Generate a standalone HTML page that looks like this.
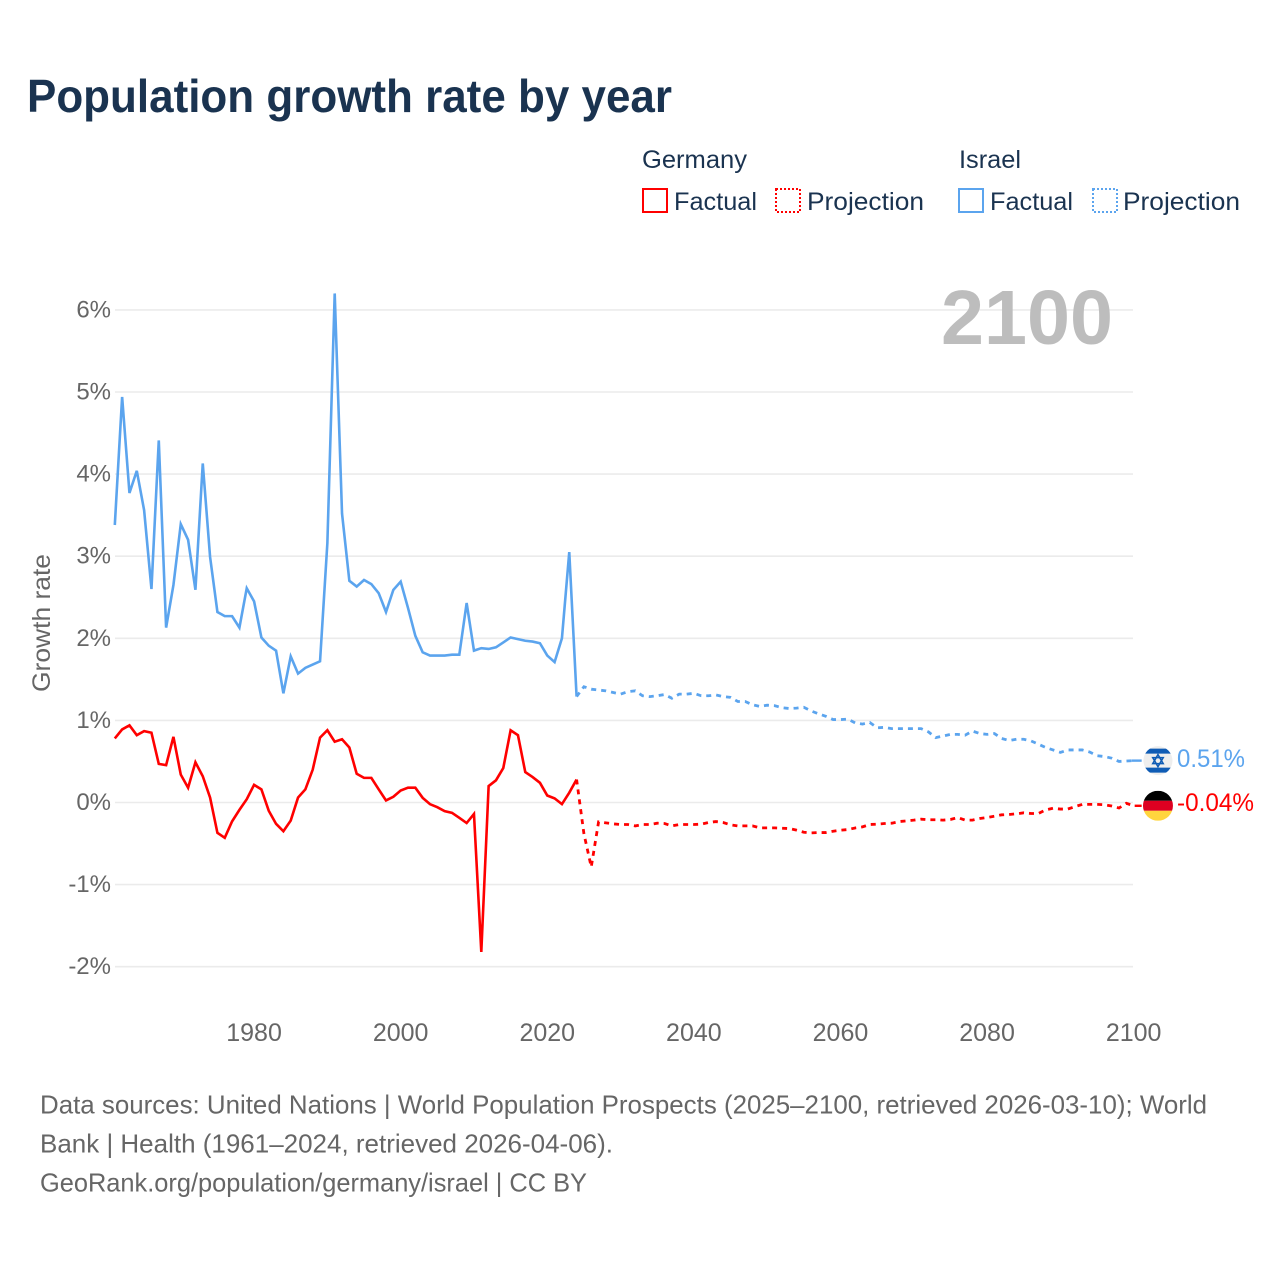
<!DOCTYPE html>
<html lang="en">
<head>
<meta charset="utf-8">
<title>Population growth rate by year</title>
<style>
html,body{margin:0;padding:0;background:#fff;}
svg{display:block;font-family:"Liberation Sans",sans-serif;}
</style>
</head>
<body>
<svg id="chart" xmlns="http://www.w3.org/2000/svg" width="1280" height="1280" viewBox="0 0 1280 1280">
  <rect x="0" y="0" width="1280" height="1280" fill="#ffffff"/>
  <text x="27" y="112" font-size="46" font-weight="700" fill="#1a3350" textLength="645" lengthAdjust="spacingAndGlyphs">Population growth rate by year</text>

  <g font-size="25" fill="#1a3350">
    <text x="642" y="168" textLength="105" lengthAdjust="spacingAndGlyphs">Germany</text>
    <text x="959" y="168" textLength="62" lengthAdjust="spacingAndGlyphs">Israel</text>
    <rect x="643" y="189" width="24" height="23" fill="none" stroke="#ff0000" stroke-width="2"/>
    <text x="674" y="210" textLength="83" lengthAdjust="spacingAndGlyphs">Factual</text>
    <rect x="776" y="189" width="24" height="23" fill="none" stroke="#ff0000" stroke-width="2" stroke-dasharray="2 2"/>
    <text x="807" y="210" textLength="117" lengthAdjust="spacingAndGlyphs">Projection</text>
    <rect x="959" y="189" width="24" height="23" fill="none" stroke="#5ba4ee" stroke-width="2"/>
    <text x="990" y="210" textLength="83" lengthAdjust="spacingAndGlyphs">Factual</text>
    <rect x="1093" y="189" width="24" height="23" fill="none" stroke="#5ba4ee" stroke-width="2" stroke-dasharray="2 2"/>
    <text x="1123" y="210" textLength="117" lengthAdjust="spacingAndGlyphs">Projection</text>
  </g>

  <g id="grid"></g>
  <text x="941" y="344" font-size="77" font-weight="700" fill="#bdbdbd" textLength="172" lengthAdjust="spacingAndGlyphs">2100</text>
  <text transform="translate(50,692) rotate(-90)" font-size="25" fill="#666666" textLength="138" lengthAdjust="spacingAndGlyphs">Growth rate</text>
  <g id="yticks" font-size="24" fill="#666666" text-anchor="end"></g>
  <g id="xticks" font-size="25" fill="#666666" text-anchor="middle"></g>
  <g id="series"></g>

  <g id="flag-israel">
    <clipPath id="clip-il"><circle cx="0" cy="0" r="14.5"/></clipPath>
    <g clip-path="url(#clip-il)">
      <rect x="-15" y="-15" width="30" height="30" fill="#eeeeee"/>
      <rect x="-15" y="-12" width="30" height="5" fill="#0f5cb5"/>
      <rect x="-15" y="7" width="30" height="5" fill="#0f5cb5"/>
    </g>
    <polygon points="0,-6 5.2,3 -5.2,3" fill="none" stroke="#0f5cb5" stroke-width="1.6"/>
    <polygon points="0,6 5.2,-3 -5.2,-3" fill="none" stroke="#0f5cb5" stroke-width="1.6"/>
  </g>
  <g id="flag-germany">
    <clipPath id="clip-de"><circle cx="0" cy="0" r="15"/></clipPath>
    <g clip-path="url(#clip-de)">
      <rect x="-15" y="-15" width="30" height="10" fill="#000000"/>
      <rect x="-15" y="-5" width="30" height="10" fill="#dd0021"/>
      <rect x="-15" y="5" width="30" height="10" fill="#ffd53e"/>
    </g>
  </g>
  <text id="label-israel" x="1177" font-size="25" fill="#5ba4ee" textLength="68" lengthAdjust="spacingAndGlyphs"></text>
  <text id="label-germany" x="1177" font-size="25" fill="#ff0000" textLength="77" lengthAdjust="spacingAndGlyphs"></text>

  <g font-size="26" fill="#666666">
    <text x="40" y="1113.5" textLength="1167" lengthAdjust="spacingAndGlyphs">Data sources: United Nations | World Population Prospects (2025–2100, retrieved 2026-03-10); World</text>
    <text x="40" y="1152.5" textLength="573" lengthAdjust="spacingAndGlyphs">Bank | Health (1961–2024, retrieved 2026-04-06).</text>
    <text x="40" y="1191.5" textLength="547" lengthAdjust="spacingAndGlyphs">GeoRank.org/population/germany/israel | CC BY</text>
  </g>
</svg>
<script>
const yTicks = [-2, -1, 0, 1, 2, 3, 4, 5, 6];
const xTicks = [1980, 2000, 2020, 2040, 2060, 2080, 2100];
const factualStartYear = 1961;
const projectionStartYear = 2024;
const israelFactual = [3.38,4.94,3.77,4.04,3.56,2.60,4.41,2.13,2.65,3.39,3.20,2.59,4.13,2.99,2.32,2.27,2.27,2.13,2.61,2.45,2.01,1.91,1.85,1.33,1.78,1.57,1.64,1.68,1.72,3.16,6.20,3.52,2.70,2.63,2.71,2.66,2.55,2.32,2.59,2.69,2.37,2.03,1.83,1.79,1.79,1.79,1.80,1.80,2.43,1.85,1.88,1.87,1.89,1.95,2.01,1.99,1.97,1.96,1.94,1.79,1.71,2.00,3.05,1.29];
const israelProjection = [1.29,1.41,1.38,1.37,1.36,1.34,1.32,1.35,1.36,1.30,1.29,1.30,1.315,1.27,1.32,1.32,1.33,1.30,1.30,1.31,1.29,1.28,1.23,1.23,1.19,1.17,1.185,1.18,1.155,1.145,1.15,1.16,1.115,1.08,1.05,1.01,1.01,1.016,0.97,0.955,0.975,0.91,0.915,0.90,0.90,0.90,0.90,0.90,0.86,0.79,0.81,0.83,0.83,0.82,0.87,0.84,0.83,0.84,0.78,0.755,0.77,0.77,0.75,0.71,0.67,0.64,0.61,0.64,0.64,0.64,0.615,0.57,0.56,0.54,0.50,0.505,0.51];
const germanyFactual = [0.78,0.89,0.94,0.82,0.87,0.85,0.47,0.455,0.80,0.34,0.18,0.49,0.32,0.06,-0.37,-0.43,-0.23,-0.09,0.04,0.215,0.16,-0.10,-0.26,-0.35,-0.22,0.06,0.16,0.40,0.79,0.88,0.74,0.77,0.67,0.35,0.30,0.30,0.16,0.025,0.07,0.146,0.18,0.18,0.057,-0.02,-0.057,-0.105,-0.126,-0.187,-0.25,-0.14,-1.82,0.20,0.27,0.42,0.88,0.82,0.37,0.31,0.24,0.085,0.05,-0.02,0.12,0.28];
const germanyProjection = [0.28,-0.38,-0.785,-0.236,-0.248,-0.26,-0.268,-0.268,-0.285,-0.268,-0.268,-0.252,-0.256,-0.285,-0.268,-0.268,-0.268,-0.264,-0.244,-0.232,-0.244,-0.272,-0.285,-0.285,-0.285,-0.309,-0.309,-0.309,-0.313,-0.317,-0.337,-0.362,-0.37,-0.366,-0.366,-0.35,-0.337,-0.33,-0.31,-0.297,-0.268,-0.264,-0.256,-0.252,-0.232,-0.224,-0.215,-0.203,-0.21,-0.21,-0.215,-0.207,-0.183,-0.215,-0.215,-0.195,-0.183,-0.167,-0.15,-0.146,-0.138,-0.126,-0.134,-0.134,-0.09,-0.07,-0.08,-0.08,-0.05,-0.023,-0.023,-0.023,-0.027,-0.043,-0.067,-0.01,-0.04];

const SVG_NS = 'http://www.w3.org/2000/svg';
function xScale(year) { return 114.8 + (year - 1961) * 7.33; }
function yScale(value) { return 802.5 - value * 82.1; }
function linePath(values, startYear) {
  return values.map(function (v, i) {
    return (i ? 'L' : 'M') + xScale(startYear + i).toFixed(2) + ' ' + yScale(v).toFixed(2);
  }).join(' ');
}
function formatValue(v) { return v.toFixed(2) + '%'; }

const gridGroup = document.getElementById('grid');
const yTickGroup = document.getElementById('yticks');
yTicks.forEach(function (t) {
  const line = document.createElementNS(SVG_NS, 'line');
  
  
  line.setAttribute('x1', 115);
  line.setAttribute('x2', 1133);
  line.setAttribute('y1', yScale(t));
  line.setAttribute('y2', yScale(t));
  line.setAttribute('stroke', '#ebebeb');
  line.setAttribute('stroke-width', 1.6);
  gridGroup.appendChild(line);
  const label = document.createElementNS(SVG_NS, 'text');
  
  
  label.setAttribute('x', 111);
  label.setAttribute('y', yScale(t) + 7.5);
  label.textContent = t + '%';
  yTickGroup.appendChild(label);
});

const xTickGroup = document.getElementById('xticks');
xTicks.forEach(function (t) {
  const label = document.createElementNS(SVG_NS, 'text');
  
  
  label.setAttribute('x', xScale(t));
  label.setAttribute('y', 1041);
  label.textContent = String(t);
  xTickGroup.appendChild(label);
});

const seriesGroup = document.getElementById('series');

const israelFactualLine = document.createElementNS(SVG_NS, 'path');


israelFactualLine.setAttribute('d', linePath(israelFactual, factualStartYear));
israelFactualLine.setAttribute('fill', 'none');
israelFactualLine.setAttribute('stroke', '#5ba4ee');
israelFactualLine.setAttribute('stroke-width', 2.6);
israelFactualLine.setAttribute('stroke-linejoin', 'miter');
seriesGroup.appendChild(israelFactualLine);

const israelProjectionLine = document.createElementNS(SVG_NS, 'path');


israelProjectionLine.setAttribute('d', linePath(israelProjection, projectionStartYear));
israelProjectionLine.setAttribute('fill', 'none');
israelProjectionLine.setAttribute('stroke', '#5ba4ee');
israelProjectionLine.setAttribute('stroke-width', 2.8);
israelProjectionLine.setAttribute('stroke-dasharray', '5 5');
seriesGroup.appendChild(israelProjectionLine);

const germanyFactualLine = document.createElementNS(SVG_NS, 'path');


germanyFactualLine.setAttribute('d', linePath(germanyFactual, factualStartYear));
germanyFactualLine.setAttribute('fill', 'none');
germanyFactualLine.setAttribute('stroke', '#ff0000');
germanyFactualLine.setAttribute('stroke-width', 2.6);
seriesGroup.appendChild(germanyFactualLine);

const germanyProjectionLine = document.createElementNS(SVG_NS, 'path');


germanyProjectionLine.setAttribute('d', linePath(germanyProjection, projectionStartYear));
germanyProjectionLine.setAttribute('fill', 'none');
germanyProjectionLine.setAttribute('stroke', '#ff0000');
germanyProjectionLine.setAttribute('stroke-width', 2.8);
germanyProjectionLine.setAttribute('stroke-dasharray', '5 5');
seriesGroup.appendChild(germanyProjectionLine);

const endYear = projectionStartYear + israelProjection.length - 1;
const israelLast = israelProjection[israelProjection.length - 1];
const germanyLast = germanyProjection[germanyProjection.length - 1];

const israelLeader = document.createElementNS(SVG_NS, 'line');


israelLeader.setAttribute('x1', xScale(endYear) - 2);
israelLeader.setAttribute('x2', xScale(endYear) + 8);
israelLeader.setAttribute('y1', yScale(israelLast));
israelLeader.setAttribute('y2', yScale(israelLast));
israelLeader.setAttribute('stroke', '#5ba4ee');
israelLeader.setAttribute('stroke-width', 2.4);
seriesGroup.appendChild(israelLeader);

const germanyLeader = document.createElementNS(SVG_NS, 'line');


germanyLeader.setAttribute('x1', xScale(endYear) + 1);
germanyLeader.setAttribute('x2', xScale(endYear) + 8);
germanyLeader.setAttribute('y1', yScale(germanyLast));
germanyLeader.setAttribute('y2', yScale(germanyLast));
germanyLeader.setAttribute('stroke', '#ff0000');
germanyLeader.setAttribute('stroke-width', 2.4);
seriesGroup.appendChild(germanyLeader);

document.getElementById('flag-israel').setAttribute('transform', 'translate(' + (xScale(endYear) + 24.3) + ',' + yScale(israelLast) + ')');
document.getElementById('flag-germany').setAttribute('transform', 'translate(' + (xScale(endYear) + 24.3) + ',' + yScale(germanyLast) + ')');
const labelIsrael = document.getElementById('label-israel');
labelIsrael.setAttribute('y', yScale(israelLast) + 6.5);
labelIsrael.textContent = formatValue(israelLast);
const labelGermany = document.getElementById('label-germany');
labelGermany.setAttribute('y', yScale(germanyLast) + 5);
labelGermany.textContent = formatValue(germanyLast);
</script>
</body>
</html>
